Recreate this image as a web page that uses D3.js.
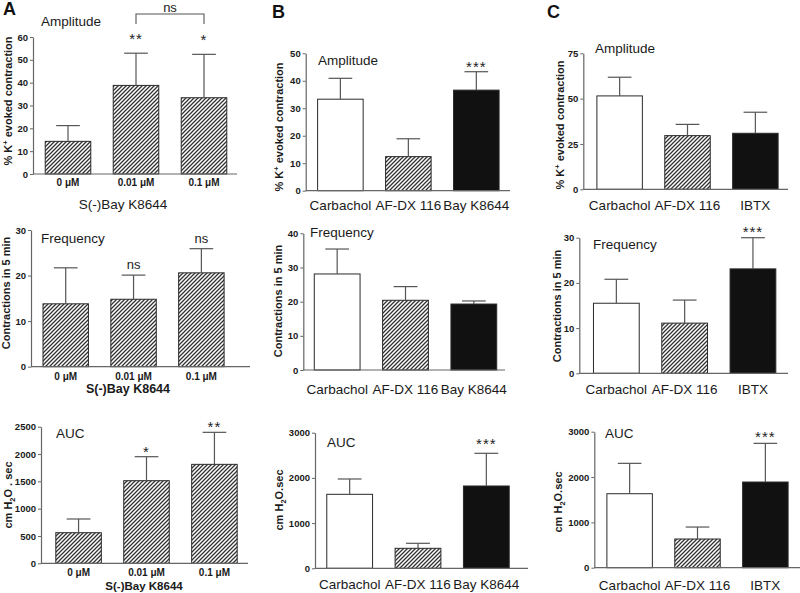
<!DOCTYPE html>
<html>
<head>
<meta charset="utf-8">
<script src="https://cdn.jsdelivr.net/npm/d3@7"></script>
<style>
  html, body { margin: 0; padding: 0; background: #fff; }
  svg { display: block; font-family: Arial, "Liberation Sans", sans-serif; }
</style>
</head>
<body>
<svg id="chart" width="800" height="593"></svg>
<script>
// ---------------- DATA ----------------
const catsA = ["0 \u03bcM", "0.01 \u03bcM", "0.1 \u03bcM"];
const catsB = ["Carbachol", "AF-DX 116", "Bay K8644"];
const catsC = ["Carbachol", "AF-DX 116", "IBTX"];

const ampA = [14.3, 38.8, 33.4];      const ampAErr = [21.2, 52.9, 52.4];
const freqA = [13.8, 14.8, 20.6];     const freqAErr = [21.7, 20.1, 25.9];
const aucA = [560, 1512, 1811];       const aucAErr = [811, 1951, 2397];

const ampB = [33.3, 12.4, 36.6];      const ampBErr = [40.9, 18.9, 43.3];
const freqB = [28.1, 20.4, 19.3];     const freqBErr = [35.4, 24.4, 20.2];
const aucB = [1637, 442, 1821];       const aucBErr = [1976, 553, 2544];

const ampC = [51.5, 29.6, 30.9];      const ampCErr = [61.8, 35.8, 42.5];
const freqC = [15.5, 11.1, 23.1];     const freqCErr = [20.8, 16.2, 30.0];
const aucC = [1632, 633, 1890];       const aucCErr = [2302, 897, 2743];

const sigA1 = ["", "**", "*"];
const sigA2 = ["", "ns", "ns"];
const sigA3 = ["", "*", "**"];
const sigB1 = ["", "", "***"];
const sigB2 = ["", "", ""];
const sigB3 = ["", "", "***"];
const sigC1 = ["", "", ""];
const sigC2 = ["", "", "***"];
const sigC3 = ["", "", "***"];

const ticksAmpA = [0, 10, 20, 30, 40, 50, 60];
const ticksFreqA = [0, 10, 20, 30];
const ticksAucA = [0, 500, 1000, 1500, 2000, 2500];
const ticksAmpB = [0, 10, 20, 30, 40, 50];
const ticksFreqB = [0, 10, 20, 30, 40];
const ticksAuc = [0, 1000, 2000, 3000];
const ticksAmpC = [0, 25, 50, 75];
const ticksFreqC = [0, 10, 20, 30];

const groupLabel = "S(-)Bay K8644";
// ---------------------------------------

const svg = d3.select("#chart");
const defs = svg.append("defs");
const pat = defs.append("pattern")
  .attr("id", "hatch").attr("patternUnits", "userSpaceOnUse")
  .attr("width", 4).attr("height", 4);
pat.append("rect").attr("width", 4).attr("height", 4).attr("fill", "#fff");
pat.append("path")
  .attr("d", "M-1,1 l2,-2 M0,4 l4,-4 M3,5 l2,-2")
  .attr("stroke", "#333").attr("stroke-width", 1.3);

const fillsA = ["url(#hatch)", "url(#hatch)", "url(#hatch)"];
const fillsBC = ["#fff", "url(#hatch)", "#111"];

const panels = [
  { vals: ampA, errs: ampAErr, cats: catsA, ticks: ticksAmpA, sig: sigA1, fills: fillsA,
    title: "Amplitude", tX: 41, tY: 26, ax: 33, xEnd: 237, y0: 174, yTop: 37, band: [34, 238],
    catY: 186, catStyle: "A", yl: "amp", ylX: 12, ylY: 101, sigOff: 9.6 },
  { vals: freqA, errs: freqAErr, cats: catsA, ticks: ticksFreqA, sig: sigA2, fills: fillsA,
    title: "Frequency", tX: 41, tY: 243, ax: 31, xEnd: 250, y0: 366.7, yTop: 230, band: [31.8, 235.3],
    catY: 380, catStyle: "A", yl: "freq", ylX: 10, ylY: 293, sigOff: 6 },
  { vals: aucA, errs: aucAErr, cats: catsA, ticks: ticksAucA, sig: sigA3, fills: fillsA,
    title: "AUC", tX: 56, tY: 438, ax: 41, xEnd: 248, y0: 563.3, yTop: 426.7, band: [44.6, 248.4],
    catY: 576, catStyle: "A", yl: "aucA", ylX: 12, ylY: 495, sigOff: 0 },
  { vals: ampB, errs: ampBErr, cats: catsB, ticks: ticksAmpB, sig: sigB1, fills: fillsBC,
    title: "Amplitude", tX: 318, tY: 65, ax: 305.7, xEnd: 510, y0: 190.7, yTop: 53.3, band: [306.4, 510.3],
    catY: 210, catStyle: "B", yl: "amp", ylX: 283, ylY: 127, sigOff: 0 },
  { vals: freqB, errs: freqBErr, cats: catsB, ticks: ticksFreqB, sig: sigB2, fills: fillsBC,
    title: "Frequency", tX: 310, tY: 237, ax: 303.3, xEnd: 505, y0: 370, yTop: 233.3, band: [303, 508],
    catY: 394, catStyle: "B", yl: "freq", ylX: 282, ylY: 301, sigOff: 0 },
  { vals: aucB, errs: aucBErr, cats: catsB, ticks: ticksAuc, sig: sigB3, fills: fillsBC,
    title: "AUC", tX: 327, tY: 447, ax: 315, xEnd: 528, y0: 568.3, yTop: 432.7, band: [315.5, 520.5],
    catY: 589, catStyle: "B", yl: "auc", ylX: 283, ylY: 500, sigOff: 4.6 },
  { vals: ampC, errs: ampCErr, cats: catsC, ticks: ticksAmpC, sig: sigC1, fills: fillsBC,
    title: "Amplitude", tX: 595, tY: 53, ax: 583.3, xEnd: 788, y0: 189.3, yTop: 53.3, band: [585.7, 789.3],
    catY: 210, catStyle: "B", yl: "amp", ylX: 564, ylY: 125, sigOff: 0 },
  { vals: freqC, errs: freqCErr, cats: catsC, ticks: ticksFreqC, sig: sigC2, fills: fillsBC,
    title: "Frequency", tX: 593, tY: 249, ax: 579.3, xEnd: 788, y0: 373.3, yTop: 237.7, band: [582.2, 787.1],
    catY: 394, catStyle: "B", yl: "freq", ylX: 561, ylY: 306, sigOff: 1 },
  { vals: aucC, errs: aucCErr, cats: catsC, ticks: ticksAuc, sig: sigC3, fills: fillsBC,
    title: "AUC", tX: 605, tY: 438, ax: 594.3, xEnd: 800, y0: 567.7, yTop: 431.7, band: [595.7, 799.3],
    catY: 590, catStyle: "B", yl: "auc", ylX: 562, ylY: 502, sigOff: 1.6 }
];

function yLabel(g, kind, x, y) {
  const t = g.append("text")
    .attr("transform", `translate(${x},${y}) rotate(-90)`)
    .attr("text-anchor", "middle")
    .attr("font-weight", "bold").attr("font-size", 11).attr("fill", "#1a1a1a");
  if (kind === "amp") {
    t.append("tspan").text("% K");
    t.append("tspan").attr("dy", -4).attr("font-size", 7.5).text("+");
    t.append("tspan").attr("dy", 4).text(" evoked contraction");
  } else if (kind === "freq") {
    t.text("Contractions in 5 min");
  } else {
    t.append("tspan").text("cm H");
    t.append("tspan").attr("dy", 3).attr("font-size", 7.5).text("2");
    t.append("tspan").attr("dy", -3).text(kind === "aucA" ? "O . sec" : "O.sec");
  }
}

const FONT = "Arial, 'Liberation Sans', sans-serif";

panels.forEach(p => {
  const g = svg.append("g");
  const x = d3.scaleBand().domain(p.cats).range(p.band).paddingInner(0.33).paddingOuter(0.165);
  const y = d3.scaleLinear().domain([0, d3.max(p.ticks)]).range([p.y0, p.yTop]);
  const bw = x.bandwidth();

  // bars
  g.selectAll("rect.bar").data(p.vals).join("rect")
    .attr("class", "bar")
    .attr("x", (d, i) => x(p.cats[i]))
    .attr("y", d => y(d))
    .attr("width", bw)
    .attr("height", d => y(0) - y(d))
    .attr("fill", (d, i) => p.fills[i])
    .attr("stroke", "#2a2a2a").attr("stroke-width", 1);

  // error bars (upper) + significance marks
  p.vals.forEach((v, i) => {
    const cx = x(p.cats[i]) + bw / 2;
    g.append("line").attr("x1", cx).attr("x2", cx)
      .attr("y1", y(v)).attr("y2", y(p.errs[i]))
      .attr("stroke", "#555").attr("stroke-width", 1.2);
    g.append("line").attr("x1", cx - bw * 0.26).attr("x2", cx + bw * 0.26)
      .attr("y1", y(p.errs[i])).attr("y2", y(p.errs[i]))
      .attr("stroke", "#555").attr("stroke-width", 1.2);
    const s = p.sig[i];
    if (s) {
      const isNs = s === "ns";
      g.append("text").attr("x", cx).attr("y", y(p.errs[i]) - p.sigOff)
        .attr("text-anchor", "middle")
        .attr("font-size", isNs ? 13 : 15).attr("fill", "#222")
        .attr("letter-spacing", isNs ? 0 : 1)
        .text(s);
    }
  });

  // y axis
  const ya = g.append("g").attr("transform", `translate(${p.ax},0)`)
    .call(d3.axisLeft(y).tickValues(p.ticks).tickFormat(d3.format("d"))
      .tickSize(3).tickSizeOuter(0).tickPadding(2));
  ya.select(".domain").attr("stroke", "#666").attr("stroke-width", 1.2);
  ya.selectAll(".tick line").attr("stroke", "#666");
  ya.selectAll(".tick text").attr("font-family", FONT)
    .attr("font-size", 9.5).attr("font-weight", "bold").attr("fill", "#1a1a1a");

  // x axis line
  g.append("line").attr("x1", p.ax).attr("x2", p.xEnd).attr("y1", p.y0).attr("y2", p.y0)
    .attr("stroke", "#666").attr("stroke-width", 1.2);

  // category labels via axis
  const xa = g.append("g").attr("transform", `translate(0,${p.catY})`)
    .call(d3.axisBottom(x).tickSize(0).tickPadding(0));
  xa.select(".domain").remove();
  xa.selectAll(".tick text")
    .attr("dy", 0).attr("y", 0)
    .attr("font-family", FONT)
    .attr("font-size", p.catStyle === "A" ? 10 : 13.5)
    .attr("font-weight", p.catStyle === "A" ? "bold" : "normal")
    .attr("fill", "#1a1a1a");

  // title
  g.append("text").attr("x", p.tX).attr("y", p.tY)
    .attr("font-size", 13.5).attr("fill", "#1a1a1a").text(p.title);

  yLabel(g, p.yl, p.ylX, p.ylY);
});

// group labels under panel A
svg.append("text").attr("x", 123).attr("y", 209).attr("text-anchor", "middle")
  .attr("font-size", 13.5).attr("fill", "#1a1a1a").text(groupLabel);
svg.append("text").attr("x", 128).attr("y", 393).attr("text-anchor", "middle")
  .attr("font-size", 12.5).attr("font-weight", "bold").attr("fill", "#1a1a1a").text(groupLabel);
svg.append("text").attr("x", 144).attr("y", 590).attr("text-anchor", "middle")
  .attr("font-size", 11.5).attr("font-weight", "bold").attr("fill", "#1a1a1a").text(groupLabel);

// ns bracket in A amplitude (between bars 2 and 3)
(function () {
  const p = panels[0];
  const x = d3.scaleBand().domain(p.cats).range(p.band).paddingInner(0.33).paddingOuter(0.165);
  const x1 = x(p.cats[1]) + x.bandwidth() / 2, x2 = x(p.cats[2]) + x.bandwidth() / 2;
  svg.append("path").attr("d", `M${x1},24 V14 H${x2} V24`)
    .attr("fill", "none").attr("stroke", "#555").attr("stroke-width", 1.1);
  svg.append("text").attr("x", (x1 + x2) / 2).attr("y", 11.5).attr("text-anchor", "middle")
    .attr("font-size", 13).attr("fill", "#222").text("ns");
})();

// panel letters
[["A", 3, 15], ["B", 272, 18], ["C", 547, 18]].forEach(([t, lx, ly]) => {
  svg.append("text").attr("x", lx).attr("y", ly).attr("font-size", 18)
    .attr("font-weight", "bold").attr("fill", "#111").text(t);
});
</script>
</body>
</html>
